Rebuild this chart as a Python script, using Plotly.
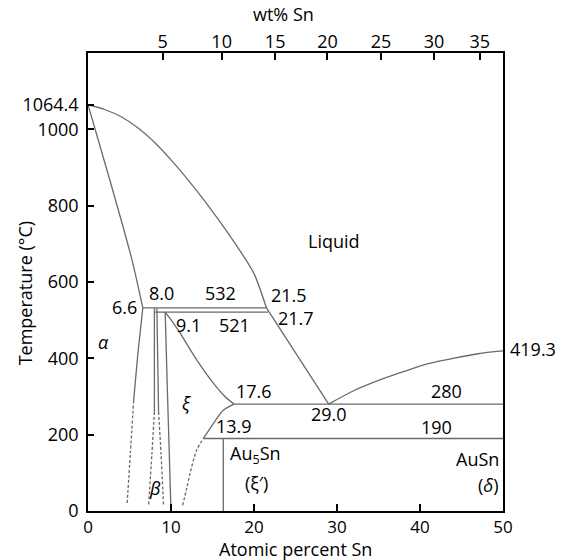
import plotly.graph_objects as go

# ---------------- data (atomic % Sn, temperature in °C) ----------------
liquidus_au_x = [0, 2, 4, 6, 8, 10, 12, 14, 16, 18, 20, 21.5]
liquidus_au_T = [1064.4, 1052, 1033, 1004, 966, 920, 869, 814, 755, 692, 622, 532]

liquidus_mid_x = [21.5, 29.0]
liquidus_mid_T = [532, 280]

liquidus_sn_x = [29.0, 32, 35, 38, 41, 44, 47, 50]
liquidus_sn_T = [280, 315, 342, 365, 386, 400, 412, 419.3]

solidus_x = [0, 2.7, 5.3, 6.6]
solidus_T = [1064.4, 862, 658, 532]

peritectic_532_x = [6.6, 21.5]
peritectic_532_T = [532, 532]
peritectic_521_x = [8.1, 21.7]
peritectic_521_T = [521, 521]

alpha_solid_x = [6.6, 6.0, 5.5]
alpha_solid_T = [532, 410, 290]
alpha_dash_x = [5.5, 5.1, 4.7]
alpha_dash_T = [290, 150, 15]

beta_left_solid_x = [8.0, 8.0]
beta_left_solid_T = [532, 260]
beta_left_dash_x = [8.0, 7.7, 7.3]
beta_left_dash_T = [260, 150, 15]

beta_right_solid_x = [8.3, 8.5]
beta_right_solid_T = [532, 260]
beta_right_dash_x = [8.5, 8.8, 9.1]
beta_right_dash_T = [260, 150, 15]

zeta_left_x = [9.3, 9.6, 10.0]
zeta_left_T = [521, 290, 0]

zeta_right_x = [9.3, 10.2, 11.1, 13.1, 15.1, 16.5, 17.6]
zeta_right_T = [521, 495, 466, 396, 335, 300, 280]

zetap_solid_x = [13.9, 15.1, 16.3, 17.6]
zetap_solid_T = [190, 229, 264, 280]
zetap_dash_x = [11.4, 11.9, 12.3, 13.1, 13.9]
zetap_dash_T = [15, 60, 99, 160, 190]

au5sn_x = [16.3, 16.3]
au5sn_T = [190, 0]

eutectic_280_x = [17.6, 50]
eutectic_280_T = [280, 280]
eutectoid_190_x = [13.9, 50]
eutectoid_190_T = [190, 190]

x_ticks = [0, 10, 20, 30, 40, 50]
y_ticks = [0, 200, 400, 600, 800, 1000, 1064.4]
y_tick_text = ["0", "200", "400", "600", "800", "1000", "1064.4"]
wt_tick_pos = [9.0, 16.1, 22.55, 28.85, 35.3, 41.7, 47.2]
wt_tick_text = ["5", "10", "15", "20", "25", "30", "35"]

labels = [
    ("Liquid", 29.6, 707), ("8.0", 8.9, 571), ("532", 16.0, 571),
    ("6.6", 4.4, 534), ("9.1", 12.1, 488), ("521", 17.6, 488),
    ("21.5", 24.2, 565), ("21.7", 25.1, 507), ("17.6", 19.95, 314),
    ("13.9", 17.55, 223), ("29.0", 29.0, 254), ("280", 43.25, 314),
    ("190", 41.95, 220), ("Au<sub>5</sub>Sn", 20.2, 149), ("(ξ′)", 20.3, 74),
]
italic_labels = [("α", 1.85, 443), ("β", 8.1, 59), ("ξ", 11.85, 282)]

# ---------------- figure ----------------
FONT = "Open Sans"
LINE = dict(color="#6a6a6a", width=1.3)
DASH = dict(color="#6a6a6a", width=1.3, dash="3px,2px")

fig = go.Figure()

solid_sets = [
    (liquidus_au_x, liquidus_au_T), (liquidus_mid_x, liquidus_mid_T),
    (liquidus_sn_x, liquidus_sn_T), (solidus_x, solidus_T),
    (peritectic_532_x, peritectic_532_T), (peritectic_521_x, peritectic_521_T),
    (alpha_solid_x, alpha_solid_T), (beta_left_solid_x, beta_left_solid_T),
    (beta_right_solid_x, beta_right_solid_T), (zeta_left_x, zeta_left_T),
    (zeta_right_x, zeta_right_T), (zetap_solid_x, zetap_solid_T),
    (au5sn_x, au5sn_T), (eutectic_280_x, eutectic_280_T),
    (eutectoid_190_x, eutectoid_190_T),
]
dash_sets = [
    (alpha_dash_x, alpha_dash_T), (beta_left_dash_x, beta_left_dash_T),
    (beta_right_dash_x, beta_right_dash_T), (zetap_dash_x, zetap_dash_T),
]

for xs, ts in solid_sets:
    fig.add_trace(go.Scatter(x=xs, y=ts, mode="lines", line=LINE,
                             line_shape="spline", line_smoothing=0.8,
                             hoverinfo="skip", showlegend=False))
for xs, ts in dash_sets:
    fig.add_trace(go.Scatter(x=xs, y=ts, mode="lines", line=DASH,
                             line_shape="spline", line_smoothing=0.8,
                             hoverinfo="skip", showlegend=False))

# invisible trace for top axis
fig.add_trace(go.Scatter(x=[0, 50], y=[0, 0], xaxis="x2", mode="lines",
                         line=dict(width=0), hoverinfo="skip", showlegend=False))

annotations = []
for txt, x, y in labels:
    annotations.append(dict(x=x, y=y, text=txt, showarrow=False,
                            font=dict(family=FONT, size=18, color="black")))
for txt, x, y in italic_labels:
    annotations.append(dict(x=x, y=y, text="<i>" + txt + "</i>", showarrow=False,
                            font=dict(family=FONT, size=18, color="black")))
annotations += [
    dict(x=49.75, y=135, text="AuSn", showarrow=False, xanchor="right",
         font=dict(family=FONT, size=18, color="black")),
    dict(x=49.75, y=67, text="(<i>δ</i>)", showarrow=False, xanchor="right",
         font=dict(family=FONT, size=18, color="black")),
    dict(x=50, y=425, text="419.3", showarrow=False, xanchor="left", xshift=5,
         font=dict(family=FONT, size=18, color="black")),
    dict(xref="paper", yref="paper", x=0.5, y=-0.083, text="Atomic percent Sn",
         showarrow=False, yanchor="middle",
         font=dict(family=FONT, size=18, color="black")),
    dict(xref="paper", yref="paper", x=-0.151, y=0.476, text="Temperature (°C)",
         showarrow=False, textangle=-90, xanchor="center", yanchor="middle",
         font=dict(family=FONT, size=18, color="black")),
    dict(xref="paper", yref="paper", x=0.47, y=1.085, text="wt% Sn",
         showarrow=False, yanchor="middle",
         font=dict(family=FONT, size=18, color="black")),
]

axis_common = dict(showgrid=False, zeroline=False, showline=True,
                   linecolor="black", linewidth=1.5, ticks="inside",
                   tickcolor="black", tickwidth=1.5)

fig.update_layout(
    width=564, height=560,
    margin=dict(l=88, r=61, t=53, b=49),
    paper_bgcolor="white", plot_bgcolor="white",
    showlegend=False,
    xaxis=dict(range=[0, 50], tickvals=x_ticks, ticklen=7,
               ticklabelstandoff=0,
               tickfont=dict(family=FONT, size=17, color="black"), **axis_common),
    xaxis2=dict(range=[0, 50], overlaying="x", side="top", tickvals=wt_tick_pos,
                ticktext=wt_tick_text, ticklen=7, ticklabelstandoff=-4,
                tickfont=dict(family=FONT, size=18, color="black"), **axis_common),
    yaxis=dict(range=[0, 1200], tickvals=y_ticks, ticktext=y_tick_text, ticklen=6,
               mirror=True, ticklabelstandoff=4,
               tickfont=dict(family=FONT, size=18, color="black"), **axis_common),
    annotations=annotations,
)

fig.write_html("out.html")
